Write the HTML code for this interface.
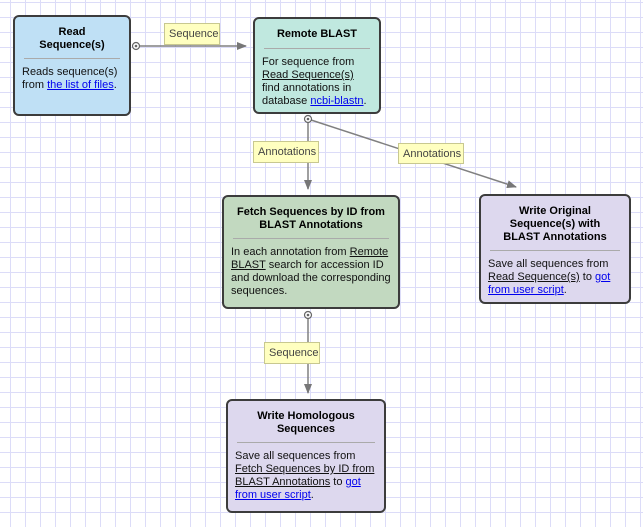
<!DOCTYPE html>
<html><head><style>
body{margin:0;width:643px;height:527px;overflow:hidden;background:#fff;
background-image:linear-gradient(to right,#dcdcf8 1px,transparent 1px),linear-gradient(to bottom,#dcdcf8 1px,transparent 1px);
background-size:15px 15px;background-position:10px 2px;font-family:"Liberation Sans",sans-serif;font-size:11px;position:relative}
.b{position:absolute;border:2px solid #3c3c3c;border-radius:6px;box-sizing:border-box;padding:0 7px}
.t{font-weight:bold;text-align:center;line-height:13px;padding:9px 0 6px;border-bottom:1px solid #aaa;margin:0 2px;white-space:nowrap}
.d{line-height:13px;padding-top:7px;color:#111;white-space:nowrap}
a{color:#00e;text-decoration:underline}
u{text-decoration:underline}
.l{position:absolute;background:#ffffc0;border:1px solid #c8c890;color:#444;font-size:11px;line-height:20px;padding:0 4px;box-sizing:border-box}
svg{position:absolute;left:0;top:0}
</style></head><body>
<svg width="643" height="527">
<defs><marker id="ar" markerWidth="10" markerHeight="8" refX="9" refY="4" orient="auto" markerUnits="userSpaceOnUse"><path d="M0,0 L10,4 L0,8 z" fill="#777"/></marker></defs>
<g stroke="#808080" stroke-width="1.5" fill="none">
<line x1="136" y1="46" x2="246" y2="46" marker-end="url(#ar)"/>
<line x1="308" y1="119" x2="308" y2="189" marker-end="url(#ar)"/>
<line x1="308" y1="119" x2="516" y2="187" marker-end="url(#ar)"/>
<line x1="308" y1="315" x2="308" y2="393" marker-end="url(#ar)"/>
</g>
<g fill="#fff" stroke="#666" stroke-width="1.2">
<circle cx="136" cy="46" r="3.5"/><circle cx="308" cy="119" r="3.5"/><circle cx="308" cy="315" r="3.5"/>
</g>
<g fill="#666"><circle cx="136" cy="46" r="1.3"/><circle cx="308" cy="119" r="1.3"/><circle cx="308" cy="315" r="1.3"/></g>
</svg>
<div class="b" style="left:13px;top:15px;width:118px;height:101px;background:#bfe0f5"><div class="t">Read<br>Sequence(s)</div><div class="d">Reads sequence(s)<br>from <a>the list of files</a>.</div></div>
<div class="b" style="left:253px;top:17px;width:128px;height:97px;background:#c0e8df"><div class="t" style="padding:9px 0 7px">Remote BLAST</div><div class="d">For sequence from<br><u>Read Sequence(s)</u><br>find annotations in<br>database <a>ncbi-blastn</a>.</div></div>
<div class="b" style="left:222px;top:195px;width:178px;height:114px;background:#c2d9c0"><div class="t">Fetch Sequences by ID from<br>BLAST Annotations</div><div class="d">In each annotation from <u>Remote<br>BLAST</u> search for accession ID<br>and download the corresponding<br>sequences.</div></div>
<div class="b" style="left:479px;top:194px;width:152px;height:110px;background:#ddd8ee"><div class="t">Write Original<br>Sequence(s) with<br>BLAST Annotations</div><div class="d">Save all sequences from<br><u>Read Sequence(s)</u> to <a>got<br>from user script</a>.</div></div>
<div class="b" style="left:226px;top:399px;width:160px;height:114px;background:#ddd8ee"><div class="t">Write Homologous<br>Sequences</div><div class="d">Save all sequences from<br><u>Fetch Sequences by ID from<br>BLAST Annotations</u> to <a>got<br>from user script</a>.</div></div>
<div class="l" style="left:164px;top:23px;width:56px;height:22px">Sequence</div>
<div class="l" style="left:253px;top:141px;width:66px;height:22px">Annotations</div>
<div class="l" style="left:398px;top:143px;width:66px;height:21px">Annotations</div>
<div class="l" style="left:264px;top:342px;width:56px;height:22px">Sequence</div>
</body></html>
